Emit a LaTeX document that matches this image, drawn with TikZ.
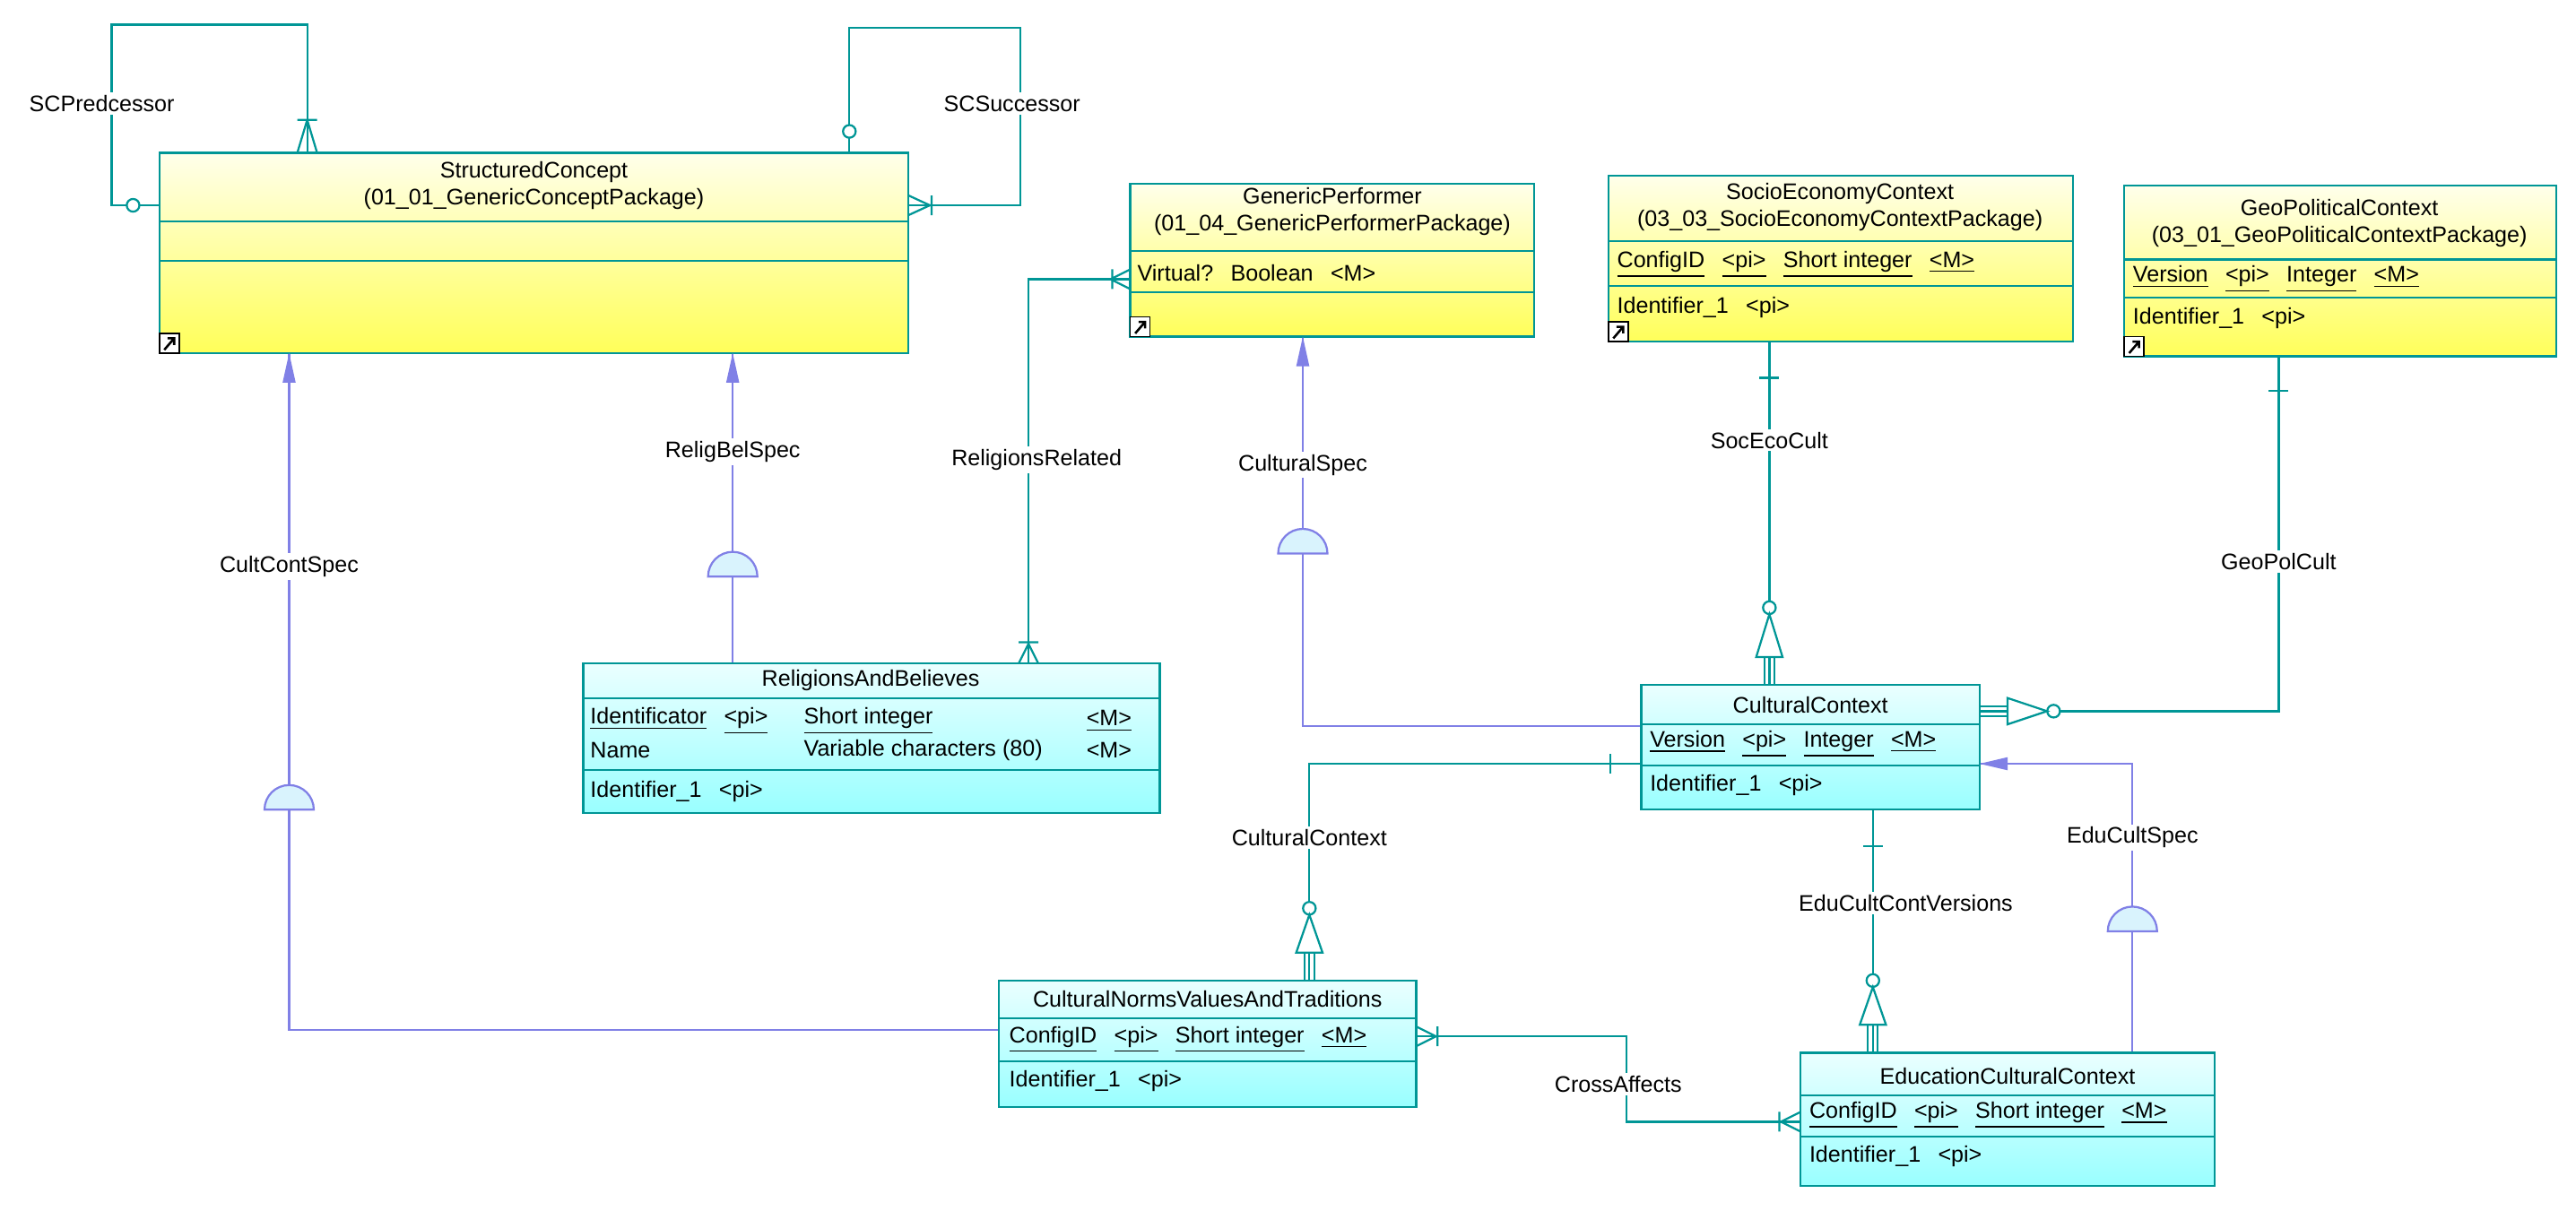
\documentclass[tikz,border=0pt]{standalone}
\usepackage{fontspec}
\setmainfont{Liberation Sans}
\usetikzlibrary{fit}
\definecolor{tl}{RGB}{0,150,150}
\definecolor{lv}{RGB}{128,128,230}
\newcommand{\gapx}{\hspace{6pt}}
\begin{document}
\begin{tikzpicture}[x=0.02cm,y=-0.02cm,
  every node/.style={font=\fontsize{7.8}{9.4}\selectfont},
  ybox/.style={draw=tl,line width=0.7pt,inner sep=0,top color=yellow!8,bottom color=yellow!65},
  cbox/.style={draw=tl,line width=0.7pt,inner sep=0,top color=cyan!8,bottom color=cyan!40},
  tline/.style={draw=tl,line width=0.7pt},
  lline/.style={draw=lv,line width=0.7pt},
  lab/.style={fill=white,inner sep=1pt},
  txt/.style={anchor=west,inner sep=0}]
\useasboundingbox (0,0) rectangle (1568,737);
\newcommand{\ebox}[6]{\coordinate (#1a) at (#2,#3);\coordinate (#1b) at (#4,#5);
  \node[#6,fit=(#1a)(#1b)] (#1) {};}
\newcommand{\icon}[2]{\draw[fill=white,line width=0.5pt] (#1,#2) rectangle ++(12,-12);
  \draw[line width=0.8pt] (#1+3,#2-2)--(#1+9,#2-9) (#1+5,#2-9)--(#1+9,#2-9)--(#1+9,#2-5);}
% StructuredConcept
\ebox{SC}{97}{93}{553}{215}{ybox}
\node (SCt) at (325,113) [align=center] {StructuredConcept\\(01\_01\_GenericConceptPackage)};
\draw[tline] (97,135)--(553,135) (97,159)--(553,159);
\icon{97}{215}
% GenericPerformer
\ebox{GP}{688}{112}{934}{205}{ybox}
\node (GPt) at (811,129) [align=center] {GenericPerformer\\(01\_04\_GenericPerformerPackage)};
\draw[tline] (688,153)--(934,153) (688,178)--(934,178);
\node[txt] (GPa) at (692,166) {Virtual?\gapx Boolean\gapx {<}M{>}};
\icon{688}{205}
% SocioEconomyContext
\ebox{SE}{979}{107}{1262}{208}{ybox}
\node (SEt) at (1120,126) [align=center] {SocioEconomyContext\\(03\_03\_SocioEconomyContextPackage)};
\draw[tline] (979,147)--(1262,147) (979,174)--(1262,174);
\node[txt] (SEa) at (984,161) {\underline{ConfigID}\gapx\underline{{<}pi{>}}\gapx\underline{Short integer}\gapx\underline{{<}M{>}}};
\node[txt] (SEi) at (984,187) {Identifier\_1\gapx{<}pi{>}};
\icon{979}{208}
% GeoPoliticalContext
\ebox{GE}{1293}{113}{1556}{217}{ybox}
\node (GEt) at (1424,136) [align=center] {GeoPoliticalContext\\(03\_01\_GeoPoliticalContextPackage)};
\draw[tline] (1293,158)--(1556,158) (1293,181)--(1556,181);
\node[txt] (GEa) at (1298,170) {\underline{Version}\gapx\underline{{<}pi{>}}\gapx\underline{Integer}\gapx\underline{{<}M{>}}};
\node[txt] (GEi) at (1298,194) {Identifier\_1\gapx{<}pi{>}};
\icon{1293}{217}
% ReligionsAndBelieves
\ebox{RB}{355}{404}{706}{495}{cbox}
\node (RBt) at (530,414) {ReligionsAndBelieves};
\draw[tline] (355,425)--(706,425) (355,469)--(706,469);
\node[txt] (RBa1) at (359,439) {\underline{Identificator}\gapx\underline{{<}pi{>}}};
\node[txt] (RBa2) at (489,439) {\underline{Short integer}};
\node[txt] (RBa3) at (661,439) {\underline{{<}M{>}}};
\node[txt] (RBb1) at (359,457) {Name};
\node[txt] (RBb2) at (489,457) {Variable characters (80)};
\node[txt] (RBb3) at (661,457) {{<}M{>}};
\node[txt] (RBi) at (359,482) {Identifier\_1\gapx{<}pi{>}};
% CulturalContext
\ebox{CC}{999}{417}{1205}{493}{cbox}
\node (CCt) at (1102,429) {CulturalContext};
\draw[tline] (999,441)--(1205,441) (999,466)--(1205,466);
\node[txt] (CCa) at (1004,453) {\underline{Version}\gapx\underline{{<}pi{>}}\gapx\underline{Integer}\gapx\underline{{<}M{>}}};
\node[txt] (CCi) at (1004,478) {Identifier\_1\gapx{<}pi{>}};
% CulturalNormsValuesAndTraditions
\ebox{CN}{608}{597}{862}{674}{cbox}
\node (CNt) at (735,608) {CulturalNormsValuesAndTraditions};
\draw[tline] (608,620)--(862,620) (608,646)--(862,646);
\node[txt] (CNa) at (614,633) {\underline{ConfigID}\gapx\underline{{<}pi{>}}\gapx\underline{Short integer}\gapx\underline{{<}M{>}}};
\node[txt] (CNi) at (614,658) {Identifier\_1\gapx{<}pi{>}};
% EducationCulturalContext
\ebox{EC}{1096}{641}{1348}{722}{cbox}
\node (ECt) at (1222,655) {EducationCulturalContext};
\draw[tline] (1096,667)--(1348,667) (1096,692)--(1348,692);
\node[txt] (ECa) at (1101,679) {\underline{ConfigID}\gapx\underline{{<}pi{>}}\gapx\underline{Short integer}\gapx\underline{{<}M{>}}};
\node[txt] (ECi) at (1101,704) {Identifier\_1\gapx{<}pi{>}};

% ---- teal connectors
\draw[tline] (SC.north -| 187,0)--(187,15)--(68,15)--(68,125)--(SC.west |- 0,125);
\draw[tline] (187,73)--(181,93) (187,73)--(193,93) (181,73)--(193,73);
\draw[tline,fill=white] (81,125) circle (2.2pt);
\node[lab] (l1) at (62,63) {SCPredcessor};
\draw[tline] (SC.north -| 517,0)--(517,17)--(621,17)--(621,125)--(SC.east |- 0,125);
\draw[tline,fill=white] (517,80) circle (2.2pt);
\draw[tline] (566,125)--(553,119) (566,125)--(553,131) (567,119)--(567,131);
\node[lab] (l2) at (616,63) {SCSuccessor};
% ReligionsRelated
\draw[tline] (RB.north -| 626,0)--(626,170)--(GP.west |- 0,170);
\draw[tline] (626,392)--(620,404) (626,392)--(632,404) (620,391)--(632,391);
\draw[tline] (676,170)--(688,164) (676,170)--(688,176) (677,164)--(677,176);
\node[lab] (l3) at (631,280) {ReligionsRelated};
% SocEcoCult
\draw[tline] (SE.south -| 1077,0)--(1077,366);
\draw[tline] (1071,230)--(1083,230);
\draw[tline,fill=white] (1077,370) circle (2.2pt);
\draw[tline,fill=white] (1077,374)--(1069,400)--(1085,400)--cycle;
\draw[tline] (1074,400)--(1074,417) (1077,400)--(1077,417) (1080,400)--(1080,417);
\node[lab] (l4) at (1077,268) {SocEcoCult};
% GeoPolCult
\draw[tline] (GE.south -| 1387,0)--(1387,433)--(1254,433);
\draw[tline] (1381,238)--(1393,238);
\draw[tline,fill=white] (1250,433) circle (2.2pt);
\draw[tline,fill=white] (1246,433)--(1222,425)--(1222,441)--cycle;
\draw[tline] (1222,430)--(1205,430) (1222,433)--(1205,433) (1222,436)--(1205,436);
\node[lab] (l5) at (1387,342) {GeoPolCult};
% CulturalContext relation
\draw[tline] (CC.west |- 0,465)--(797,465)--(797,549);
\draw[tline] (980,459)--(980,471);
\draw[tline,fill=white] (797,553) circle (2.2pt);
\draw[tline,fill=white] (797,557)--(789,580)--(805,580)--cycle;
\draw[tline] (794,580)--(794,597) (797,580)--(797,597) (800,580)--(800,597);
\node[lab] (l6) at (797,510) {CulturalContext};
% EduCultContVersions
\draw[tline] (CC.south -| 1140,0)--(1140,593);
\draw[tline] (1134,515)--(1146,515);
\draw[tline,fill=white] (1140,597) circle (2.2pt);
\draw[tline,fill=white] (1140,601)--(1132,624)--(1148,624)--cycle;
\draw[tline] (1137,624)--(1137,641) (1140,624)--(1140,641) (1143,624)--(1143,641);
\node[lab] (l7) at (1160,550) {EduCultContVersions};
% CrossAffects
\draw[tline] (CN.east |- 0,631)--(990,631)--(990,683)--(EC.west |- 0,683);
\draw[tline] (874,631)--(862,625) (874,631)--(862,637) (875,625)--(875,637);
\draw[tline] (1084,683)--(1096,677) (1084,683)--(1096,689) (1083,677)--(1083,689);
\node[lab] (l8) at (985,660) {CrossAffects};

% ---- lavender connectors
\draw[lline] (SC.south -| 176,0)--(176,627)--(CN.west |- 0,627);
\fill[lv] (176,215)--(172,233)--(180,233)--cycle;
\draw[lline,fill=cyan!15] (161,493) arc[start angle=180,end angle=360,radius=15]--cycle;
\node[lab] (l9) at (176,345) {CultContSpec};
\draw[lline] (SC.south -| 446,0)--(RB.north -| 446,0);
\fill[lv] (446,215)--(442,233)--(450,233)--cycle;
\draw[lline,fill=cyan!15] (431,351) arc[start angle=180,end angle=360,radius=15]--cycle;
\node[lab] (l10) at (446,275) {ReligBelSpec};
\draw[lline] (GP.south -| 793,0)--(793,442)--(CC.west |- 0,442);
\fill[lv] (793,205)--(789,223)--(797,223)--cycle;
\draw[lline,fill=cyan!15] (778,337) arc[start angle=180,end angle=360,radius=15]--cycle;
\node[lab] (l11) at (793,283) {CulturalSpec};
\draw[lline] (EC.north -| 1298,0)--(1298,465)--(CC.east |- 0,465);
\fill[lv] (1205,465)--(1222,461)--(1222,469)--cycle;
\draw[lline,fill=cyan!15] (1283,567) arc[start angle=180,end angle=360,radius=15]--cycle;
\node[lab] (l12) at (1298,510) {EduCultSpec};
\end{tikzpicture}
\end{document}
